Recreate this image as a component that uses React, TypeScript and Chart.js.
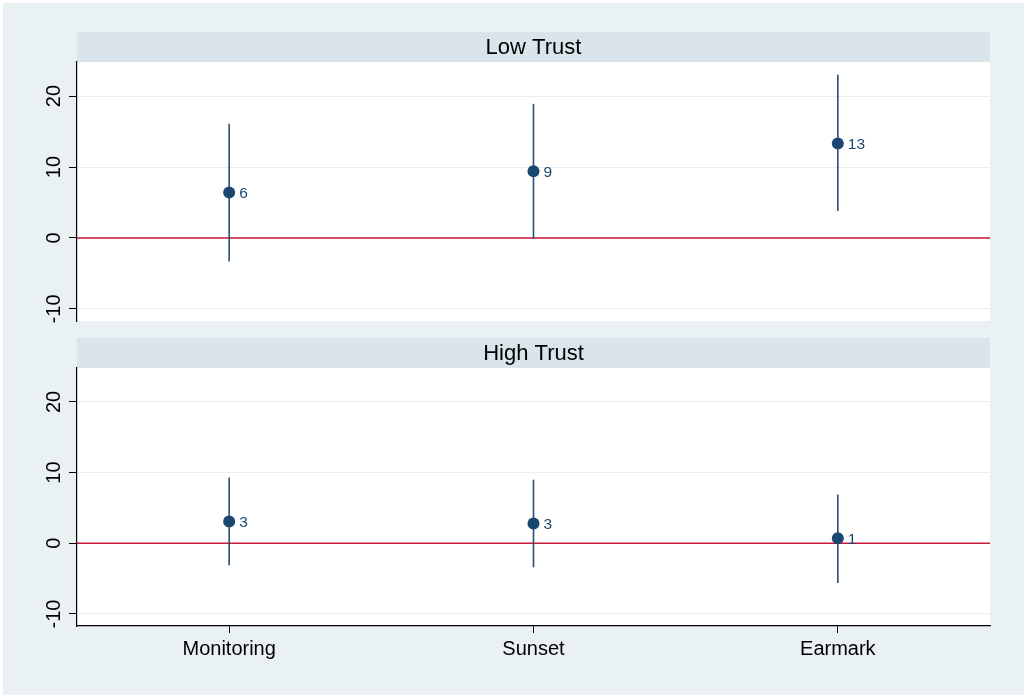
import React, { useEffect, useRef } from 'react';
import { Chart, registerables } from 'chart.js';

Chart.register(...registerables);

// Coefficient estimates with confidence intervals, one panel per trust group
const categories = ['Monitoring', 'Sunset', 'Earmark'];
const panelTitles = ['Low Trust', 'High Trust'];

const lowTrustEstimate = [6.4, 9.4, 13.3];
const lowTrustLower = [-3.3, -0.1, 3.8];
const lowTrustUpper = [16.1, 18.9, 23.0];

const highTrustEstimate = [3.1, 2.8, 0.7];
const highTrustLower = [-3.1, -3.4, -5.6];
const highTrustUpper = [9.3, 9.0, 6.9];

const yTicks = [-10, 0, 10, 20];
const yMin = -11.7;
const yMax = 24.8;

const FONT = "'Liberation Sans', Arial, Helvetica, sans-serif";
const NAVY = '#1a476f';
const CI_COLOR = '#2c4f72';
const ZERO_RED = '#c8193f';
const GRID = '#e6eef1';
const STRIP = '#d9e5eb';
const PAGE_BG = '#eaf1f3';

const W = 1024;
const H = 695;

type PanelSpec = {
  title: string;
  est: number[];
  lo: number[];
  hi: number[];
  showX: boolean;
  stripTop: number;
  padding: { top: number; left: number; right: number; bottom: number };
};

function makeConfig(p: PanelSpec): any {
  const ciSets = p.est.map((_, i) => ({
    data: [
      { x: i + 1, y: p.lo[i] },
      { x: i + 1, y: p.hi[i] },
    ],
    showLine: true,
    borderColor: CI_COLOR,
    borderWidth: 1.6,
    pointRadius: 0,
    order: 2,
  }));

  const zeroLine = {
    data: [
      { x: 0.5, y: 0 },
      { x: 3.5, y: 0 },
    ],
    showLine: true,
    borderColor: ZERO_RED,
    borderWidth: 1.6,
    pointRadius: 0,
    order: 3,
  };

  const points = {
    data: p.est.map((v, i) => ({ x: i + 1, y: v })),
    pointRadius: 6,
    pointBackgroundColor: NAVY,
    pointBorderWidth: 0,
    backgroundColor: NAVY,
    showLine: false,
    order: 1,
  };

  const datasets = [zeroLine, ...ciSets, points];
  const pointIndex = datasets.length - 1;

  const panelDecor = {
    id: 'panelDecor',
    beforeDraw(chart: any) {
      const { ctx, chartArea } = chart;
      ctx.save();
      // white plot region
      ctx.fillStyle = '#ffffff';
      ctx.fillRect(chartArea.left, chartArea.top, chartArea.right - chartArea.left, chartArea.bottom - chartArea.top);
      // header strip with panel title
      ctx.fillStyle = STRIP;
      ctx.fillRect(chartArea.left, p.stripTop, chartArea.right - chartArea.left, chartArea.top - p.stripTop);
      ctx.fillStyle = '#000000';
      ctx.font = `22px ${FONT}`;
      ctx.textAlign = 'center';
      ctx.textBaseline = 'alphabetic';
      ctx.fillText(p.title, (chartArea.left + chartArea.right) / 2, p.stripTop + 21.5);
      ctx.restore();
    },
    afterDraw(chart: any) {
      const { ctx } = chart;
      const yScale = chart.scales.y;
      ctx.save();
      // vertical y tick labels
      ctx.fillStyle = '#000000';
      ctx.font = `20px ${FONT}`;
      ctx.textAlign = 'center';
      ctx.textBaseline = 'alphabetic';
      yTicks.forEach((v) => {
        const py = yScale.getPixelForValue(v);
        ctx.save();
        ctx.translate(59.5, py);
        ctx.rotate(-Math.PI / 2);
        ctx.fillText(String(v), 0, 0);
        ctx.restore();
      });
      // value labels beside the markers
      const meta = chart.getDatasetMeta(pointIndex);
      ctx.fillStyle = NAVY;
      ctx.font = `15.5px ${FONT}`;
      ctx.textAlign = 'left';
      ctx.textBaseline = 'middle';
      meta.data.forEach((el: any, i: number) => {
        ctx.fillText(String(Math.round(p.est[i])), el.x + 10, el.y + 1);
      });
      ctx.restore();
    },
  };

  return {
    type: 'scatter',
    data: { datasets },
    plugins: [panelDecor],
    options: {
      animation: false,
      responsive: false,
      events: [],
      layout: { padding: p.padding },
      plugins: {
        legend: { display: false },
        tooltip: { enabled: false },
        title: { display: false },
      },
      scales: {
        x: {
          type: 'linear',
          min: 0.5,
          max: 3.5,
          display: p.showX,
          afterBuildTicks: (s: any) => {
            s.ticks = categories.map((_, i) => ({ value: i + 1 }));
          },
          afterFit: (s: any) => {
            s.height = p.showX ? 60 : 0;
          },
          ticks: {
            autoSkip: false,
            maxRotation: 0,
            minRotation: 0,
            padding: 4,
            color: '#000000',
            font: { family: FONT, size: 20 },
            callback: (v: number) => categories[Math.round(v) - 1] ?? '',
          },
          grid: {
            drawOnChartArea: false,
            drawTicks: true,
            tickLength: 7,
            tickColor: '#000000',
            tickWidth: 1,
          },
          border: { display: true, color: '#000000', width: 1.2 },
        },
        y: {
          type: 'linear',
          min: yMin,
          max: yMax,
          afterBuildTicks: (s: any) => {
            s.ticks = yTicks.map((v) => ({ value: v }));
          },
          afterFit: (s: any) => {
            s.width = 77;
          },
          ticks: { display: false },
          grid: {
            color: GRID,
            lineWidth: 1,
            drawTicks: true,
            tickLength: 8,
            tickColor: '#000000',
            tickWidth: 1,
          },
          border: { display: true, color: '#000000', width: 1.2 },
        },
      },
    },
  };
}

const panels: PanelSpec[] = [
  {
    title: panelTitles[0],
    est: lowTrustEstimate,
    lo: lowTrustLower,
    hi: lowTrustUpper,
    showX: false,
    stripTop: 32,
    padding: { top: 62, left: 0, right: 34, bottom: H - 321 },
  },
  {
    title: panelTitles[1],
    est: highTrustEstimate,
    lo: highTrustLower,
    hi: highTrustUpper,
    showX: true,
    stripTop: 338,
    padding: { top: 368, left: 0, right: 34, bottom: H - 626 - 60 },
  },
];

function Panel({ spec }: { spec: PanelSpec }) {
  const ref = useRef<HTMLCanvasElement | null>(null);
  useEffect(() => {
    if (!ref.current) return;
    const chart = new Chart(ref.current, makeConfig(spec));
    return () => chart.destroy();
  }, [spec]);
  return (
    <canvas
      ref={ref}
      width={W}
      height={H}
      style={{ position: 'absolute', left: 0, top: 0, width: W, height: H, display: 'block' }}
    />
  );
}

export default function App() {
  return (
    <div
      style={{
        position: 'fixed',
        left: 0,
        top: 0,
        width: W,
        height: H,
        background: '#ffffff',
        overflow: 'hidden',
      }}
    >
      <div style={{ position: 'absolute', left: 3, top: 3, right: 0, bottom: 0, background: PAGE_BG }} />
      {panels.map((p) => (
        <Panel key={p.title} spec={p} />
      ))}
    </div>
  );
}
